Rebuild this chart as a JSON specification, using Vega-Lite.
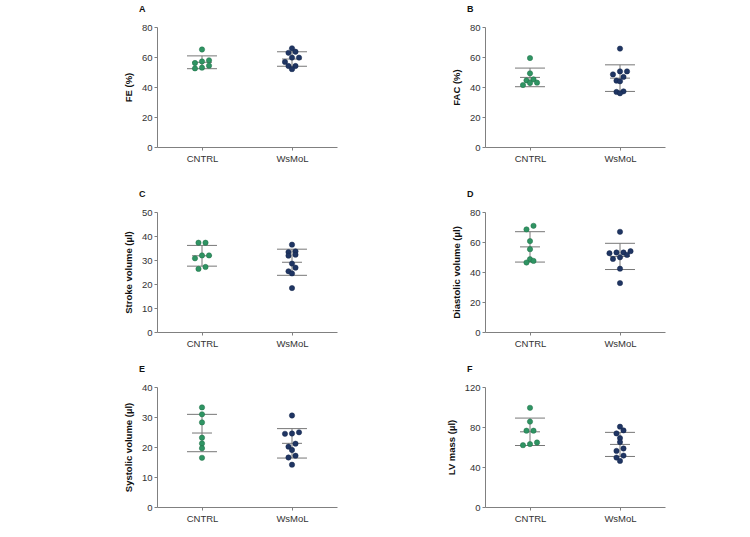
{
  "$schema": "https://vega.github.io/schema/vega-lite/v6.json",
  "padding": {"left": 123, "top": 5, "right": 5, "bottom": 5},
  "background": "white",
  "datasets": {
    "d": [
      {"panel":"A","group":"CNTRL","value":57.0},{"panel":"A","group":"CNTRL","value":56.0},{"panel":"A","group":"CNTRL","value":65.0},{"panel":"A","group":"CNTRL","value":57.8},{"panel":"A","group":"CNTRL","value":54.2},{"panel":"A","group":"CNTRL","value":52.9},{"panel":"A","group":"CNTRL","value":52.4},
      {"panel":"A","group":"WsMoL","value":65.8},{"panel":"A","group":"WsMoL","value":63.5},{"panel":"A","group":"WsMoL","value":62.8},{"panel":"A","group":"WsMoL","value":59.6},{"panel":"A","group":"WsMoL","value":59.6},{"panel":"A","group":"WsMoL","value":56.7},{"panel":"A","group":"WsMoL","value":54.0},{"panel":"A","group":"WsMoL","value":54.0},{"panel":"A","group":"WsMoL","value":51.9},
      {"panel":"B","group":"CNTRL","value":45.1},{"panel":"B","group":"CNTRL","value":44.4},{"panel":"B","group":"CNTRL","value":59.3},{"panel":"B","group":"CNTRL","value":49.1},{"panel":"B","group":"CNTRL","value":42.9},{"panel":"B","group":"CNTRL","value":42.7},{"panel":"B","group":"CNTRL","value":41.3},
      {"panel":"B","group":"WsMoL","value":65.6},{"panel":"B","group":"WsMoL","value":50.4},{"panel":"B","group":"WsMoL","value":50.4},{"panel":"B","group":"WsMoL","value":48.4},{"panel":"B","group":"WsMoL","value":46.7},{"panel":"B","group":"WsMoL","value":44.2},{"panel":"B","group":"WsMoL","value":43.8},{"panel":"B","group":"WsMoL","value":37.1},{"panel":"B","group":"WsMoL","value":36.7},{"panel":"B","group":"WsMoL","value":35.8},
      {"panel":"C","group":"CNTRL","value":37.2},{"panel":"C","group":"CNTRL","value":37.2},{"panel":"C","group":"CNTRL","value":31.9},{"panel":"C","group":"CNTRL","value":31.9},{"panel":"C","group":"CNTRL","value":30.7},{"panel":"C","group":"CNTRL","value":27.1},{"panel":"C","group":"CNTRL","value":26.3},
      {"panel":"C","group":"WsMoL","value":36.4},{"panel":"C","group":"WsMoL","value":33.6},{"panel":"C","group":"WsMoL","value":33.3},{"panel":"C","group":"WsMoL","value":32.2},{"panel":"C","group":"WsMoL","value":31.8},{"panel":"C","group":"WsMoL","value":28.5},{"panel":"C","group":"WsMoL","value":26.8},{"panel":"C","group":"WsMoL","value":25.3},{"panel":"C","group":"WsMoL","value":24.4},{"panel":"C","group":"WsMoL","value":18.3},
      {"panel":"D","group":"CNTRL","value":70.8},{"panel":"D","group":"CNTRL","value":68.4},{"panel":"D","group":"CNTRL","value":60.6},{"panel":"D","group":"CNTRL","value":55.2},{"panel":"D","group":"CNTRL","value":48.5},{"panel":"D","group":"CNTRL","value":47.4},{"panel":"D","group":"CNTRL","value":46.3},
      {"panel":"D","group":"WsMoL","value":66.8},{"panel":"D","group":"WsMoL","value":53.9},{"panel":"D","group":"WsMoL","value":53.0},{"panel":"D","group":"WsMoL","value":53.0},{"panel":"D","group":"WsMoL","value":52.5},{"panel":"D","group":"WsMoL","value":51.4},{"panel":"D","group":"WsMoL","value":49.8},{"panel":"D","group":"WsMoL","value":48.7},{"panel":"D","group":"WsMoL","value":42.2},{"panel":"D","group":"WsMoL","value":32.6},
      {"panel":"E","group":"CNTRL","value":33.2},{"panel":"E","group":"CNTRL","value":30.9},{"panel":"E","group":"CNTRL","value":28.2},{"panel":"E","group":"CNTRL","value":23.1},{"panel":"E","group":"CNTRL","value":21.2},{"panel":"E","group":"CNTRL","value":19.6},{"panel":"E","group":"CNTRL","value":16.4},
      {"panel":"E","group":"WsMoL","value":30.5},{"panel":"E","group":"WsMoL","value":24.9},{"panel":"E","group":"WsMoL","value":24.5},{"panel":"E","group":"WsMoL","value":24.4},{"panel":"E","group":"WsMoL","value":21.1},{"panel":"E","group":"WsMoL","value":20.1},{"panel":"E","group":"WsMoL","value":19.0},{"panel":"E","group":"WsMoL","value":17.1},{"panel":"E","group":"WsMoL","value":16.5},{"panel":"E","group":"WsMoL","value":14.1},
      {"panel":"F","group":"CNTRL","value":99.2},{"panel":"F","group":"CNTRL","value":85.4},{"panel":"F","group":"CNTRL","value":76.3},{"panel":"F","group":"CNTRL","value":76.3},{"panel":"F","group":"CNTRL","value":64.5},{"panel":"F","group":"CNTRL","value":62.9},{"panel":"F","group":"CNTRL","value":61.8},
      {"panel":"F","group":"WsMoL","value":80.3},{"panel":"F","group":"WsMoL","value":76.6},{"panel":"F","group":"WsMoL","value":73.6},{"panel":"F","group":"WsMoL","value":68.9},{"panel":"F","group":"WsMoL","value":64.9},{"panel":"F","group":"WsMoL","value":58.5},{"panel":"F","group":"WsMoL","value":56.1},{"panel":"F","group":"WsMoL","value":51.4},{"panel":"F","group":"WsMoL","value":49.4},{"panel":"F","group":"WsMoL","value":46.1}
    ]
  },
  "data": {"name": "d"},
  "spacing": 27,
  "vconcat": [
    {
      "bounds": "flush",
      "spacing": 148,
      "hconcat": [
        {
          "width": 180, "height": 120,
          "title": {"text": "A"},
          "transform": [{"filter": "datum.panel === 'A'"}, {"calculate": "datum.group === 'CNTRL' ? 1 : 3", "as": "gx"}],
          "layer": [
            {
              "transform": [
                {"aggregate": [{"op": "mean", "field": "value", "as": "m"}, {"op": "stdev", "field": "value", "as": "s"}], "groupby": ["group", "gx"]},
                {"calculate": "datum.m + datum.s", "as": "hi"}, {"calculate": "datum.m - datum.s", "as": "lo"},
                {"calculate": "datum.gx - 0.333", "as": "xa"}, {"calculate": "datum.gx + 0.333", "as": "xb"},
                {"calculate": "datum.gx - 0.222", "as": "ma"}, {"calculate": "datum.gx + 0.222", "as": "mb"}
              ],
              "layer": [
                {"mark": {"type": "rule", "color": "#777777"}, "encoding": {"x": {"field": "gx", "type": "quantitative"}, "y": {"field": "lo", "type": "quantitative"}, "y2": {"field": "hi"}}},
                {"mark": {"type": "rule", "color": "#777777"}, "encoding": {"x": {"field": "xa", "type": "quantitative"}, "x2": {"field": "xb"}, "y": {"field": "hi", "type": "quantitative"}}},
                {"mark": {"type": "rule", "color": "#777777"}, "encoding": {"x": {"field": "xa", "type": "quantitative"}, "x2": {"field": "xb"}, "y": {"field": "lo", "type": "quantitative"}}},
                {"mark": {"type": "rule", "color": "#777777"}, "encoding": {"x": {"field": "ma", "type": "quantitative"}, "x2": {"field": "mb"}, "y": {"field": "m", "type": "quantitative"}}}
              ]
            },
            {
              "transform": [
                {"calculate": "floor(datum.value / 4)", "as": "bin"},
                {"window": [{"op": "row_number", "as": "r"}, {"op": "count", "as": "n"}], "groupby": ["group", "bin"], "sort": [{"field": "value"}], "frame": [null, null]},
                {"calculate": "datum.gx + (datum.r - (datum.n + 1) / 2) * 0.156", "as": "xp"}
              ],
              "mark": {"type": "circle", "size": 28, "opacity": 1, "strokeWidth": 0.5},
              "encoding": {
                "x": {"field": "xp", "type": "quantitative", "scale": {"domain": [0, 4]}, "axis": {"values": [1, 3], "labelExpr": "datum.value === 1 ? 'CNTRL' : 'WsMoL'", "title": null}},
                "y": {"field": "value", "type": "quantitative", "scale": {"domain": [0, 80]}, "axis": {"values": [0, 20, 40, 60, 80], "tickCount": 5, "title": "FE (%)"}},
                "color": {"field": "group", "type": "nominal", "scale": {"domain": ["CNTRL", "WsMoL"], "range": ["#2F9463", "#1F3563"]}, "legend": null},
                "stroke": {"field": "group", "type": "nominal", "scale": {"domain": ["CNTRL", "WsMoL"], "range": ["#1F6E46", "#15264A"]}, "legend": null}
              }
            }
          ]
        },
        {
          "width": 180, "height": 120,
          "title": {"text": "B"},
          "transform": [{"filter": "datum.panel === 'B'"}, {"calculate": "datum.group === 'CNTRL' ? 1 : 3", "as": "gx"}],
          "layer": [
            {
              "transform": [
                {"aggregate": [{"op": "mean", "field": "value", "as": "m"}, {"op": "stdev", "field": "value", "as": "s"}], "groupby": ["group", "gx"]},
                {"calculate": "datum.m + datum.s", "as": "hi"}, {"calculate": "datum.m - datum.s", "as": "lo"},
                {"calculate": "datum.gx - 0.333", "as": "xa"}, {"calculate": "datum.gx + 0.333", "as": "xb"},
                {"calculate": "datum.gx - 0.222", "as": "ma"}, {"calculate": "datum.gx + 0.222", "as": "mb"}
              ],
              "layer": [
                {"mark": {"type": "rule", "color": "#777777"}, "encoding": {"x": {"field": "gx", "type": "quantitative"}, "y": {"field": "lo", "type": "quantitative"}, "y2": {"field": "hi"}}},
                {"mark": {"type": "rule", "color": "#777777"}, "encoding": {"x": {"field": "xa", "type": "quantitative"}, "x2": {"field": "xb"}, "y": {"field": "hi", "type": "quantitative"}}},
                {"mark": {"type": "rule", "color": "#777777"}, "encoding": {"x": {"field": "xa", "type": "quantitative"}, "x2": {"field": "xb"}, "y": {"field": "lo", "type": "quantitative"}}},
                {"mark": {"type": "rule", "color": "#777777"}, "encoding": {"x": {"field": "ma", "type": "quantitative"}, "x2": {"field": "mb"}, "y": {"field": "m", "type": "quantitative"}}}
              ]
            },
            {
              "transform": [
                {"calculate": "floor(datum.value / 4)", "as": "bin"},
                {"window": [{"op": "row_number", "as": "r"}, {"op": "count", "as": "n"}], "groupby": ["group", "bin"], "sort": [{"field": "value"}], "frame": [null, null]},
                {"calculate": "datum.gx + (datum.r - (datum.n + 1) / 2) * 0.156", "as": "xp"}
              ],
              "mark": {"type": "circle", "size": 28, "opacity": 1, "strokeWidth": 0.5},
              "encoding": {
                "x": {"field": "xp", "type": "quantitative", "scale": {"domain": [0, 4]}, "axis": {"values": [1, 3], "labelExpr": "datum.value === 1 ? 'CNTRL' : 'WsMoL'", "title": null}},
                "y": {"field": "value", "type": "quantitative", "scale": {"domain": [0, 80]}, "axis": {"values": [0, 20, 40, 60, 80], "tickCount": 5, "title": "FAC (%)"}},
                "color": {"field": "group", "type": "nominal", "scale": {"domain": ["CNTRL", "WsMoL"], "range": ["#2F9463", "#1F3563"]}, "legend": null},
                "stroke": {"field": "group", "type": "nominal", "scale": {"domain": ["CNTRL", "WsMoL"], "range": ["#1F6E46", "#15264A"]}, "legend": null}
              }
            }
          ]
        }
      ]
    },
    {
      "spacing": 17,
      "vconcat": [
        {
          "bounds": "flush",
          "spacing": 148,
          "hconcat": [
            {
              "width": 180, "height": 120,
              "title": {"text": "C"},
              "transform": [{"filter": "datum.panel === 'C'"}, {"calculate": "datum.group === 'CNTRL' ? 1 : 3", "as": "gx"}],
              "layer": [
                {
                  "transform": [
                    {"aggregate": [{"op": "mean", "field": "value", "as": "m"}, {"op": "stdev", "field": "value", "as": "s"}], "groupby": ["group", "gx"]},
                    {"calculate": "datum.m + datum.s", "as": "hi"}, {"calculate": "datum.m - datum.s", "as": "lo"},
                    {"calculate": "datum.gx - 0.333", "as": "xa"}, {"calculate": "datum.gx + 0.333", "as": "xb"},
                    {"calculate": "datum.gx - 0.222", "as": "ma"}, {"calculate": "datum.gx + 0.222", "as": "mb"}
                  ],
                  "layer": [
                    {"mark": {"type": "rule", "color": "#777777"}, "encoding": {"x": {"field": "gx", "type": "quantitative"}, "y": {"field": "lo", "type": "quantitative"}, "y2": {"field": "hi"}}},
                    {"mark": {"type": "rule", "color": "#777777"}, "encoding": {"x": {"field": "xa", "type": "quantitative"}, "x2": {"field": "xb"}, "y": {"field": "hi", "type": "quantitative"}}},
                    {"mark": {"type": "rule", "color": "#777777"}, "encoding": {"x": {"field": "xa", "type": "quantitative"}, "x2": {"field": "xb"}, "y": {"field": "lo", "type": "quantitative"}}},
                    {"mark": {"type": "rule", "color": "#777777"}, "encoding": {"x": {"field": "ma", "type": "quantitative"}, "x2": {"field": "mb"}, "y": {"field": "m", "type": "quantitative"}}}
                  ]
                },
                {
                  "transform": [
                    {"calculate": "floor(datum.value / 2.5)", "as": "bin"},
                    {"window": [{"op": "row_number", "as": "r"}, {"op": "count", "as": "n"}], "groupby": ["group", "bin"], "sort": [{"field": "value"}], "frame": [null, null]},
                    {"calculate": "datum.gx + (datum.r - (datum.n + 1) / 2) * 0.156", "as": "xp"}
                  ],
                  "mark": {"type": "circle", "size": 28, "opacity": 1, "strokeWidth": 0.5},
                  "encoding": {
                    "x": {"field": "xp", "type": "quantitative", "scale": {"domain": [0, 4]}, "axis": {"values": [1, 3], "labelExpr": "datum.value === 1 ? 'CNTRL' : 'WsMoL'", "title": null}},
                    "y": {"field": "value", "type": "quantitative", "scale": {"domain": [0, 50]}, "axis": {"values": [0, 10, 20, 30, 40, 50], "tickCount": 6, "title": "Stroke volume (µl)"}},
                    "color": {"field": "group", "type": "nominal", "scale": {"domain": ["CNTRL", "WsMoL"], "range": ["#2F9463", "#1F3563"]}, "legend": null},
                    "stroke": {"field": "group", "type": "nominal", "scale": {"domain": ["CNTRL", "WsMoL"], "range": ["#1F6E46", "#15264A"]}, "legend": null}
                  }
                }
              ]
            },
            {
              "width": 180, "height": 120,
              "title": {"text": "D"},
              "transform": [{"filter": "datum.panel === 'D'"}, {"calculate": "datum.group === 'CNTRL' ? 1 : 3", "as": "gx"}],
              "layer": [
                {
                  "transform": [
                    {"aggregate": [{"op": "mean", "field": "value", "as": "m"}, {"op": "stdev", "field": "value", "as": "s"}], "groupby": ["group", "gx"]},
                    {"calculate": "datum.m + datum.s", "as": "hi"}, {"calculate": "datum.m - datum.s", "as": "lo"},
                    {"calculate": "datum.gx - 0.333", "as": "xa"}, {"calculate": "datum.gx + 0.333", "as": "xb"},
                    {"calculate": "datum.gx - 0.222", "as": "ma"}, {"calculate": "datum.gx + 0.222", "as": "mb"}
                  ],
                  "layer": [
                    {"mark": {"type": "rule", "color": "#777777"}, "encoding": {"x": {"field": "gx", "type": "quantitative"}, "y": {"field": "lo", "type": "quantitative"}, "y2": {"field": "hi"}}},
                    {"mark": {"type": "rule", "color": "#777777"}, "encoding": {"x": {"field": "xa", "type": "quantitative"}, "x2": {"field": "xb"}, "y": {"field": "hi", "type": "quantitative"}}},
                    {"mark": {"type": "rule", "color": "#777777"}, "encoding": {"x": {"field": "xa", "type": "quantitative"}, "x2": {"field": "xb"}, "y": {"field": "lo", "type": "quantitative"}}},
                    {"mark": {"type": "rule", "color": "#777777"}, "encoding": {"x": {"field": "ma", "type": "quantitative"}, "x2": {"field": "mb"}, "y": {"field": "m", "type": "quantitative"}}}
                  ]
                },
                {
                  "transform": [
                    {"calculate": "floor(datum.value / 4)", "as": "bin"},
                    {"window": [{"op": "row_number", "as": "r"}, {"op": "count", "as": "n"}], "groupby": ["group", "bin"], "sort": [{"field": "value"}], "frame": [null, null]},
                    {"calculate": "datum.gx + (datum.r - (datum.n + 1) / 2) * 0.156", "as": "xp"}
                  ],
                  "mark": {"type": "circle", "size": 28, "opacity": 1, "strokeWidth": 0.5},
                  "encoding": {
                    "x": {"field": "xp", "type": "quantitative", "scale": {"domain": [0, 4]}, "axis": {"values": [1, 3], "labelExpr": "datum.value === 1 ? 'CNTRL' : 'WsMoL'", "title": null}},
                    "y": {"field": "value", "type": "quantitative", "scale": {"domain": [0, 80]}, "axis": {"values": [0, 20, 40, 60, 80], "tickCount": 5, "title": "Diastolic volume (µl)"}},
                    "color": {"field": "group", "type": "nominal", "scale": {"domain": ["CNTRL", "WsMoL"], "range": ["#2F9463", "#1F3563"]}, "legend": null},
                    "stroke": {"field": "group", "type": "nominal", "scale": {"domain": ["CNTRL", "WsMoL"], "range": ["#1F6E46", "#15264A"]}, "legend": null}
                  }
                }
              ]
            }
          ]
        },
        {
          "bounds": "flush",
          "spacing": 148,
          "hconcat": [
            {
              "width": 180, "height": 120,
              "title": {"text": "E"},
              "transform": [{"filter": "datum.panel === 'E'"}, {"calculate": "datum.group === 'CNTRL' ? 1 : 3", "as": "gx"}],
              "layer": [
                {
                  "transform": [
                    {"aggregate": [{"op": "mean", "field": "value", "as": "m"}, {"op": "stdev", "field": "value", "as": "s"}], "groupby": ["group", "gx"]},
                    {"calculate": "datum.m + datum.s", "as": "hi"}, {"calculate": "datum.m - datum.s", "as": "lo"},
                    {"calculate": "datum.gx - 0.333", "as": "xa"}, {"calculate": "datum.gx + 0.333", "as": "xb"},
                    {"calculate": "datum.gx - 0.222", "as": "ma"}, {"calculate": "datum.gx + 0.222", "as": "mb"}
                  ],
                  "layer": [
                    {"mark": {"type": "rule", "color": "#777777"}, "encoding": {"x": {"field": "gx", "type": "quantitative"}, "y": {"field": "lo", "type": "quantitative"}, "y2": {"field": "hi"}}},
                    {"mark": {"type": "rule", "color": "#777777"}, "encoding": {"x": {"field": "xa", "type": "quantitative"}, "x2": {"field": "xb"}, "y": {"field": "hi", "type": "quantitative"}}},
                    {"mark": {"type": "rule", "color": "#777777"}, "encoding": {"x": {"field": "xa", "type": "quantitative"}, "x2": {"field": "xb"}, "y": {"field": "lo", "type": "quantitative"}}},
                    {"mark": {"type": "rule", "color": "#777777"}, "encoding": {"x": {"field": "ma", "type": "quantitative"}, "x2": {"field": "mb"}, "y": {"field": "m", "type": "quantitative"}}}
                  ]
                },
                {
                  "transform": [
                    {"calculate": "floor(datum.value / 2)", "as": "bin"},
                    {"window": [{"op": "row_number", "as": "r"}, {"op": "count", "as": "n"}], "groupby": ["group", "bin"], "sort": [{"field": "value"}], "frame": [null, null]},
                    {"calculate": "datum.gx + (datum.r - (datum.n + 1) / 2) * 0.156", "as": "xp"}
                  ],
                  "mark": {"type": "circle", "size": 28, "opacity": 1, "strokeWidth": 0.5},
                  "encoding": {
                    "x": {"field": "xp", "type": "quantitative", "scale": {"domain": [0, 4]}, "axis": {"values": [1, 3], "labelExpr": "datum.value === 1 ? 'CNTRL' : 'WsMoL'", "title": null}},
                    "y": {"field": "value", "type": "quantitative", "scale": {"domain": [0, 40]}, "axis": {"values": [0, 10, 20, 30, 40], "tickCount": 5, "title": "Systolic volume (µl)"}},
                    "color": {"field": "group", "type": "nominal", "scale": {"domain": ["CNTRL", "WsMoL"], "range": ["#2F9463", "#1F3563"]}, "legend": null},
                    "stroke": {"field": "group", "type": "nominal", "scale": {"domain": ["CNTRL", "WsMoL"], "range": ["#1F6E46", "#15264A"]}, "legend": null}
                  }
                }
              ]
            },
            {
              "width": 180, "height": 120,
              "title": {"text": "F"},
              "transform": [{"filter": "datum.panel === 'F'"}, {"calculate": "datum.group === 'CNTRL' ? 1 : 3", "as": "gx"}],
              "layer": [
                {
                  "transform": [
                    {"aggregate": [{"op": "mean", "field": "value", "as": "m"}, {"op": "stdev", "field": "value", "as": "s"}], "groupby": ["group", "gx"]},
                    {"calculate": "datum.m + datum.s", "as": "hi"}, {"calculate": "datum.m - datum.s", "as": "lo"},
                    {"calculate": "datum.gx - 0.333", "as": "xa"}, {"calculate": "datum.gx + 0.333", "as": "xb"},
                    {"calculate": "datum.gx - 0.222", "as": "ma"}, {"calculate": "datum.gx + 0.222", "as": "mb"}
                  ],
                  "layer": [
                    {"mark": {"type": "rule", "color": "#777777"}, "encoding": {"x": {"field": "gx", "type": "quantitative"}, "y": {"field": "lo", "type": "quantitative"}, "y2": {"field": "hi"}}},
                    {"mark": {"type": "rule", "color": "#777777"}, "encoding": {"x": {"field": "xa", "type": "quantitative"}, "x2": {"field": "xb"}, "y": {"field": "hi", "type": "quantitative"}}},
                    {"mark": {"type": "rule", "color": "#777777"}, "encoding": {"x": {"field": "xa", "type": "quantitative"}, "x2": {"field": "xb"}, "y": {"field": "lo", "type": "quantitative"}}},
                    {"mark": {"type": "rule", "color": "#777777"}, "encoding": {"x": {"field": "ma", "type": "quantitative"}, "x2": {"field": "mb"}, "y": {"field": "m", "type": "quantitative"}}}
                  ]
                },
                {
                  "transform": [
                    {"calculate": "floor(datum.value / 6)", "as": "bin"},
                    {"window": [{"op": "row_number", "as": "r"}, {"op": "count", "as": "n"}], "groupby": ["group", "bin"], "sort": [{"field": "value"}], "frame": [null, null]},
                    {"calculate": "datum.gx + (datum.r - (datum.n + 1) / 2) * 0.156", "as": "xp"}
                  ],
                  "mark": {"type": "circle", "size": 28, "opacity": 1, "strokeWidth": 0.5},
                  "encoding": {
                    "x": {"field": "xp", "type": "quantitative", "scale": {"domain": [0, 4]}, "axis": {"values": [1, 3], "labelExpr": "datum.value === 1 ? 'CNTRL' : 'WsMoL'", "title": null}},
                    "y": {"field": "value", "type": "quantitative", "scale": {"domain": [0, 120]}, "axis": {"values": [0, 40, 80, 120], "tickCount": 4, "title": "LV mass (µl)"}},
                    "color": {"field": "group", "type": "nominal", "scale": {"domain": ["CNTRL", "WsMoL"], "range": ["#2F9463", "#1F3563"]}, "legend": null},
                    "stroke": {"field": "group", "type": "nominal", "scale": {"domain": ["CNTRL", "WsMoL"], "range": ["#1F6E46", "#15264A"]}, "legend": null}
                  }
                }
              ]
            }
          ]
        }
      ]
    }
  ],
  "config": {
    "view": {"stroke": null},
    "axis": {
      "grid": false,
      "domainColor": "#808080",
      "tickColor": "#808080",
      "tickSize": 3,
      "labelPadding": 2,
      "labelOverlap": false,
      "labelFont": "Liberation Sans, Arial, sans-serif",
      "labelFontSize": 9.5,
      "labelColor": "#333333",
      "titleFont": "Liberation Sans, Arial, sans-serif",
      "titleFontSize": 9.5,
      "titleFontWeight": "bold",
      "titleColor": "#111111",
      "titlePadding": 8
    },
    "axisX": {"labelPadding": 3},
    "title": {
      "anchor": "start",
      "frame": "group",
      "dx": -18,
      "offset": 8,
      "fontSize": 9,
      "fontWeight": "bold",
      "font": "Liberation Sans, Arial, sans-serif",
      "color": "#111111"
    }
  }
}
